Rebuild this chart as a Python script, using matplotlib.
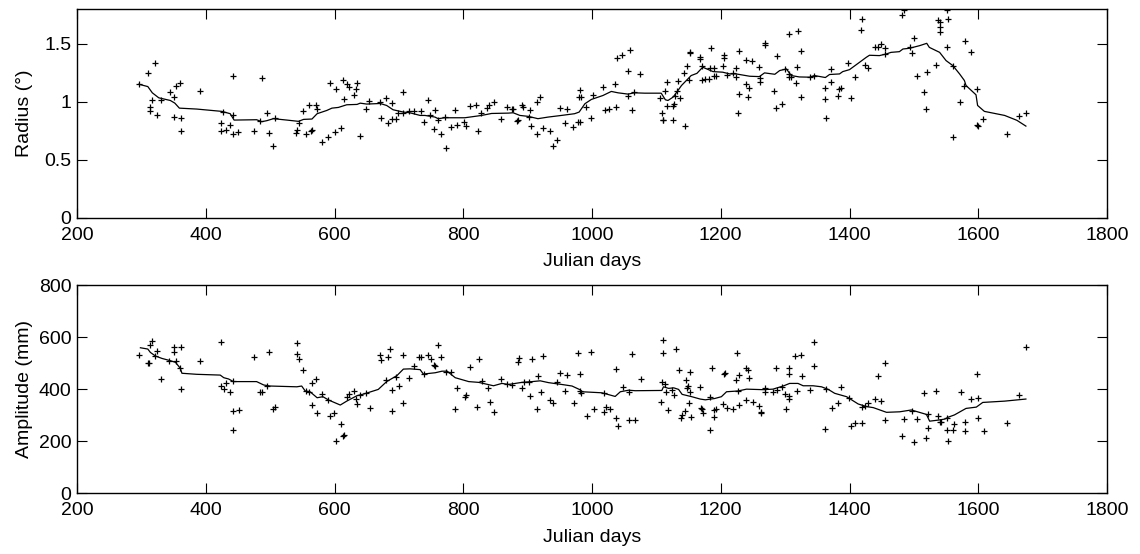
import matplotlib
matplotlib.use("Agg")
import matplotlib.pyplot as plt

plt.rcParams['font.family'] = ['Liberation Sans', 'DejaVu Sans']

# ---------------- Radius panel: individual points ----------------
radius_day = [
    296, 321, 311, 316, 313.5, 313, 324, 331, 344, 351,
    354, 360, 351, 361, 361, 390.5, 443, 427, 442, 424,
    437.5, 424, 432, 443, 450.5, 488, 495, 484.5, 508, 475,
    498, 505, 545, 551, 560.5, 570.5, 572.5, 541.5, 540.5, 555,
    564, 565, 581, 590, 600, 610, 593, 603, 613, 619.5,
    622.5, 633, 635, 630, 614.5, 639, 649, 654, 670, 679.5,
    689, 672, 682.5, 689, 695.5, 699, 706, 716, 723, 706,
    735, 744.5, 749, 755.5, 760, 738.5, 754.5, 765, 773, 771,
    781, 787, 791, 800.5, 803.5, 811, 820.5, 823, 828, 837.5,
    840.5, 847.5, 858, 867.5, 875.5, 878, 883.5, 885.5, 891.5, 893.5,
    901.5, 904, 906, 914, 919.5, 914.5, 923.5, 934, 945, 939,
    950.5, 961, 957.5, 970.5, 977.5, 981, 981.5, 980, 983, 991,
    998.5, 1002, 1017, 1020, 1026.5, 1036, 1037, 1039, 1047, 1059,
    1056, 1056.5, 1062, 1066, 1075, 1106, 1114, 1108, 1110, 1110,
    1116, 1126, 1125.5, 1127, 1116, 1129, 1136.5, 1133.5, 1131.5, 1145,
    1143, 1147.5, 1150, 1151.5, 1151.5, 1167, 1168, 1170.5, 1171.5, 1175,
    1185.5, 1183, 1189, 1182.5, 1189, 1193, 1205, 1205, 1203, 1209.5,
    1219, 1224, 1224, 1229, 1228, 1227.5, 1239, 1249, 1239.5, 1244,
    1243, 1259.5, 1261.5, 1261.5, 1268.5, 1268.5, 1282, 1288, 1286, 1295,
    1300, 1305.5, 1309, 1306.5, 1306, 1319.5, 1316.5, 1318, 1324.5, 1325,
    1338, 1344.5, 1362, 1362.5, 1364, 1372, 1372, 1383, 1386.5, 1382,
    1398, 1402, 1408.5, 1419, 1418.5, 1424.5, 1429, 1439, 1443.5, 1449,
    1455.5, 1455, 1481, 1485, 1499.5, 1494.5, 1496.5, 1505, 1515, 1521,
    1518.5, 1534.5, 1537, 1541, 1540.5, 1541, 1551.5, 1553, 1551, 1560.5,
    1561.5, 1572, 1578, 1579, 1588.5, 1598.5, 1598.5, 1599, 1608, 1644.5,
    1664, 1674,
]
radius_val = [
    1.151, 1.338, 1.249, 1.017, 0.951, 0.917, 0.882, 1.017, 1.080, 1.045,
    1.134, 1.160, 0.868, 0.857, 0.745, 1.091, 1.220, 0.911, 0.882, 0.819,
    0.802, 0.745, 0.753, 0.722, 0.739, 1.203, 0.905, 0.831, 0.859, 0.745,
    0.731, 0.619, 0.819, 0.920, 0.974, 0.974, 0.937, 0.753, 0.731, 0.725,
    0.745, 0.753, 0.653, 0.696, 0.739, 0.771, 1.163, 1.114, 1.186, 1.149,
    1.131, 1.106, 1.160, 1.054, 1.023, 0.705, 0.934, 1.003, 0.994, 1.034,
    0.985, 0.859, 0.819, 0.854, 0.854, 0.905, 0.905, 0.922, 0.917, 1.083,
    0.922, 1.011, 0.888, 0.928, 0.842, 0.828, 0.768, 0.725, 0.605, 0.865,
    0.782, 0.931, 0.802, 0.825, 0.788, 0.965, 0.968, 0.751, 0.899, 0.948,
    0.968, 0.994, 0.848, 0.954, 0.934, 0.937, 0.831, 0.839, 0.971, 0.957,
    0.868, 0.928, 0.788, 0.997, 1.040, 0.722, 0.773, 0.751, 0.673, 0.616,
    0.942, 0.937, 0.817, 0.782, 0.825, 0.825, 1.103, 1.040, 1.040, 0.954,
    0.857, 1.057, 1.123, 0.925, 0.937, 1.154, 0.951, 1.378, 1.406, 1.446,
    1.263, 1.048, 0.931, 1.080, 1.240, 1.034, 1.089, 0.905, 0.845, 0.839,
    0.962, 0.839, 0.962, 0.977, 1.174, 1.048, 1.034, 1.183, 1.097, 0.791,
    1.252, 1.309, 1.186, 1.429, 1.424, 1.389, 1.369, 1.309, 1.186, 1.197,
    1.467, 1.295, 1.295, 1.197, 1.226, 1.220, 1.406, 1.375, 1.306, 1.232,
    1.249, 1.289, 1.217, 1.435, 1.071, 0.899, 1.361, 1.352, 1.149, 1.120,
    1.043, 1.300, 1.203, 1.169, 1.504, 1.492, 1.091, 1.392, 0.942, 0.983,
    1.280, 1.217, 1.217, 1.240, 1.584, 1.613, 1.163, 1.298, 1.435, 1.037,
    1.212, 1.226, 1.117, 1.020, 0.857, 1.286, 1.169, 1.106, 1.120, 1.048,
    1.335, 1.034, 1.212, 1.713, 1.621, 1.318, 1.289, 1.469, 1.469, 1.501,
    1.464, 1.412, 1.747, 1.790, 1.550, 1.469, 1.418, 1.220, 1.086, 1.255,
    0.934, 1.320, 1.707, 1.684, 1.641, 1.598, 1.790, 1.713, 1.469, 1.312,
    0.693, 0.997, 1.140, 1.524, 1.432, 1.114, 0.796, 0.788, 0.848, 0.72,
    0.88, 0.90,
]

# ---------------- Radius panel: running curve ----------------
radius_line_day = [
    296, 310, 317, 327, 345, 352, 359, 386, 425, 438,
    444, 479, 487, 495, 505, 526, 544, 552, 565, 573,
    588, 596, 606, 619, 635, 640, 650, 671, 681, 691,
    707, 717, 733, 740.5, 756, 761, 771.5, 802.5, 828.5, 844,
    870, 877.5, 888, 901, 916, 932, 952.5, 973, 980, 989,
    999, 1017, 1030, 1040.5, 1056, 1066, 1082, 1107.5, 1114, 1118,
    1126, 1133.5, 1139, 1146.5, 1154, 1163, 1172, 1188, 1203, 1214,
    1224, 1245, 1260, 1268, 1284, 1291.5, 1302, 1309.5, 1322, 1338,
    1345.5, 1362.5, 1369, 1384.5, 1389.5, 1400, 1415.5, 1426, 1431, 1446.5,
    1457, 1464.5, 1477.5, 1483, 1493, 1509, 1520, 1524, 1540, 1550,
    1560.5, 1571, 1578.5, 1581, 1596.5, 1599, 1609.5, 1641, 1660, 1674,
]
radius_line_val = [
    1.151, 1.131, 1.077, 1.034, 1.011, 0.988, 0.945, 0.937, 0.917, 0.897,
    0.842, 0.845, 0.828, 0.837, 0.854, 0.842, 0.831, 0.848, 0.851, 0.897,
    0.925, 0.945, 0.951, 0.974, 0.977, 0.988, 0.980, 0.985, 0.968, 0.931,
    0.911, 0.905, 0.882, 0.882, 0.868, 0.854, 0.862, 0.862, 0.882, 0.899,
    0.902, 0.905, 0.882, 0.874, 0.854, 0.868, 0.882, 0.897, 0.911, 0.983,
    1.020, 1.054, 1.089, 1.077, 1.066, 1.077, 1.074, 1.074, 1.017, 1.011,
    1.040, 1.097, 1.140, 1.183, 1.226, 1.245, 1.298, 1.260, 1.255, 1.240,
    1.240, 1.220, 1.217, 1.249, 1.237, 1.269, 1.283, 1.226, 1.214, 1.212,
    1.226, 1.209, 1.235, 1.240, 1.260, 1.277, 1.340, 1.383, 1.401, 1.398,
    1.412, 1.426, 1.432, 1.455, 1.461, 1.484, 1.504, 1.469, 1.426, 1.355,
    1.312, 1.240, 1.183, 1.140, 1.060, 0.968, 0.917, 0.882, 0.84, 0.79,
]

# ---------------- Amplitude panel: individual points ----------------
amp_day = [
    296.5, 311, 312, 314, 317, 321, 324, 331, 343.5, 351,
    351, 361, 354, 360, 361, 390.5, 424, 424, 431.5, 428,
    438, 443, 442, 451, 443, 475, 484, 488, 498, 495,
    505, 508, 541.5, 541, 545.5, 551, 570.5, 565, 555.5, 561,
    581, 565, 573, 590.5, 592.5, 599.5, 610, 614, 612.5, 602.5,
    620, 623, 630, 633, 635, 639, 649, 654.5, 670, 672,
    683, 686.5, 706, 680.5, 696, 700, 716, 689, 689, 706,
    723.5, 732, 735, 745, 750, 761, 765, 755, 756.5, 739.5,
    773, 781, 791, 802, 804, 787.5, 821, 811, 824, 828.5,
    838.5, 841.5, 848, 858.5, 868.5, 876.5, 884.5, 886.5, 892, 895,
    901.5, 904, 907, 915.5, 920, 914.5, 924, 934.5, 939, 945.5,
    951, 961.5, 958.5, 971.5, 977.5, 981, 981.5, 982.5, 991.5, 999,
    1003, 1018, 1021, 1027.5, 1019, 1037, 1037.5, 1041, 1048, 1057,
    1058, 1067, 1062.5, 1076, 1111, 1110, 1130, 1108.5, 1114, 1107.5,
    1118, 1115.5, 1124, 1127.5, 1134.5, 1140, 1144, 1137.5, 1146, 1147.5,
    1149, 1152, 1153, 1150, 1154, 1167, 1169.5, 1171.5, 1173, 1186,
    1183.5, 1189, 1183.5, 1190, 1192, 1203, 1205, 1206, 1209, 1219.5,
    1223.5, 1224.5, 1228, 1229, 1227, 1239.5, 1242.5, 1243.5, 1239, 1249.5,
    1259, 1262, 1263, 1269, 1269, 1281, 1287.5, 1285.5, 1295, 1300,
    1305.5, 1306, 1301, 1305.5, 1306.5, 1316, 1325, 1318.5, 1326, 1338.5,
    1345, 1345, 1362, 1363, 1372.5, 1382, 1386.5, 1398.5, 1402.5, 1409,
    1419, 1420, 1424.5, 1429.5, 1439.5, 1449, 1443.5, 1455, 1455, 1481,
    1485, 1496.5, 1500, 1505.5, 1515.5, 1519, 1522, 1521.5, 1535, 1537.5,
    1540.5, 1542, 1552, 1551.5, 1553.5, 1560.5, 1562.5, 1573, 1579, 1579,
    1588.5, 1598.5, 1599, 1599, 1609, 1644.5, 1664, 1674,
]
amp_val = [
    532, 501, 499, 569, 586, 527, 548, 439, 507, 542,
    560, 560, 510, 482, 402, 507, 583, 414, 422, 399,
    390, 430, 316, 320, 242, 522, 390, 390, 541, 411,
    325, 330, 576, 535, 517, 472, 440, 422, 393, 388,
    382, 339, 307, 357, 297, 310, 266, 224, 220, 199,
    371, 382, 393, 362, 344, 377, 384, 327, 531, 512,
    523, 554, 532, 435, 446, 413, 441, 395, 316, 345,
    490, 523, 524, 530, 515, 568, 522, 492, 490, 458,
    467, 464, 403, 371, 377, 325, 331, 485, 514, 431,
    405, 352, 312, 438, 418, 416, 503, 521, 403, 428,
    426, 375, 514, 450, 388, 322, 527, 357, 348, 427,
    463, 454, 393, 348, 540, 460, 393, 386, 295, 541,
    325, 313, 331, 325, 385, 476, 290, 260, 409, 390,
    283, 283, 536, 440, 588, 540, 556, 429, 420, 349,
    320, 390, 398, 379, 473, 300, 315, 290, 435, 403,
    414, 464, 390, 347, 294, 407, 326, 322, 308, 482,
    371, 292, 242, 320, 324, 344, 459, 463, 329, 324,
    435, 537, 454, 341, 393, 482, 475, 444, 357, 350,
    336, 312, 308, 403, 388, 390, 396, 482, 407, 382,
    373, 363, 324, 482, 457, 526, 533, 393, 450, 395,
    583, 490, 246, 402, 329, 345, 408, 367, 260, 269,
    269, 333, 335, 348, 361, 356, 450, 501, 280, 220,
    284, 316, 198, 284, 384, 211, 304, 252, 393, 295,
    275, 272, 288, 243, 199, 243, 266, 388, 274, 239,
    362, 457, 366, 289, 240, 270, 377, 561,
]

# ---------------- Amplitude panel: running curve ----------------
amp_line_day = [
    298.5, 310, 314, 322, 332, 344, 353, 360.5, 363, 386,
    422.5, 428, 435.5, 443, 479, 490, 500, 541.5, 549, 554.5,
    562, 573, 582, 591, 609, 619, 635, 645, 668, 681,
    697, 707, 717.5, 733, 738, 756.5, 767, 775, 787.5, 808.5,
    824, 847, 860, 870.5, 891, 907, 919.5, 932.5, 953, 969,
    982, 984.5, 1015.5, 1036, 1044, 1057, 1067, 1108.5, 1111, 1119,
    1127, 1134.5, 1140, 1155, 1168, 1176, 1190.5, 1201, 1209, 1227,
    1240, 1266, 1281, 1297, 1307, 1320, 1328, 1343.5, 1356.5, 1367,
    1377, 1395.5, 1413.5, 1426.5, 1437, 1457.5, 1478, 1496, 1519.5, 1524.5,
    1537.5, 1548, 1553, 1563, 1581, 1597, 1607, 1641, 1674,
]
amp_line_val = [
    559, 554, 541, 527, 518, 510, 503, 480, 461, 457,
    454, 444, 439, 429, 429, 416, 412, 409, 412, 393,
    390, 367, 371, 358, 339, 354, 375, 381, 399, 429,
    452, 477, 478, 475, 458, 463, 469, 469, 444, 429,
    426, 413, 422, 418, 426, 429, 432, 425, 418, 412,
    397, 390, 386, 372, 390, 396, 394, 395, 409, 403,
    405, 399, 380, 371, 362, 359, 364, 371, 390, 393,
    400, 398, 400, 412, 422, 422, 413, 413, 409, 399,
    384, 371, 343, 333, 329, 311, 313, 320, 303, 277,
    281, 285, 292, 301, 326, 331, 349, 354, 362,
]

x_ticks = [200, 400, 600, 800, 1000, 1200, 1400, 1600, 1800]
radius_ticks = [0, 0.5, 1, 1.5]
radius_tick_labels = ['0', '0.5', '1', '1.5']
amp_ticks = [0, 200, 400, 600, 800]
amp_tick_labels = ['0', '200', '400', '600', '800']

W, H = 1140, 554
fig = plt.figure(figsize=(W / 100, H / 100), dpi=100)

def rect(left, top, right, bottom):
    return [left / W, 1 - bottom / H, (right - left) / W, (bottom - top) / H]

ax1 = fig.add_axes(rect(77, 9, 1107, 217.7))
ax2 = fig.add_axes(rect(77, 285, 1107, 493.3))

FS = 14

def style(ax):
    ax.set_xlim(200, 1800)
    ax.set_xticks(x_ticks)
    ax.set_xticklabels([str(t) for t in x_ticks])
    ax.tick_params(direction='in', top=True, right=True, length=7, width=0.8,
                   labelsize=FS, colors='black')
    ax.tick_params(axis='x', pad=6.5)
    ax.tick_params(axis='y', pad=4)
    for s in ax.spines.values():
        s.set_linewidth(1.0)
    ax.set_xlabel('Julian days', fontsize=FS, labelpad=7)
    ax.yaxis.set_label_coords(-0.0425, 0.5)

ax1.plot(radius_day, radius_val, linestyle='none', marker='+', color='black',
         markersize=5, markeredgewidth=0.9, clip_on=True)
ax1.plot(radius_line_day, radius_line_val, color='black', linewidth=0.9)
ax1.set_ylim(0, 1.8)
ax1.set_yticks(radius_ticks)
ax1.set_yticklabels(radius_tick_labels)
ax1.set_ylabel('Radius (°)', fontsize=FS)
style(ax1)

ax2.plot(amp_day, amp_val, linestyle='none', marker='+', color='black',
         markersize=5, markeredgewidth=0.9)
ax2.plot(amp_line_day, amp_line_val, color='black', linewidth=0.9)
ax2.set_ylim(0, 800)
ax2.set_yticks(amp_ticks)
ax2.set_yticklabels(amp_tick_labels)
ax2.set_ylabel('Amplitude (mm)', fontsize=FS)
style(ax2)

fig.savefig('out.png', dpi=100, facecolor='white')
